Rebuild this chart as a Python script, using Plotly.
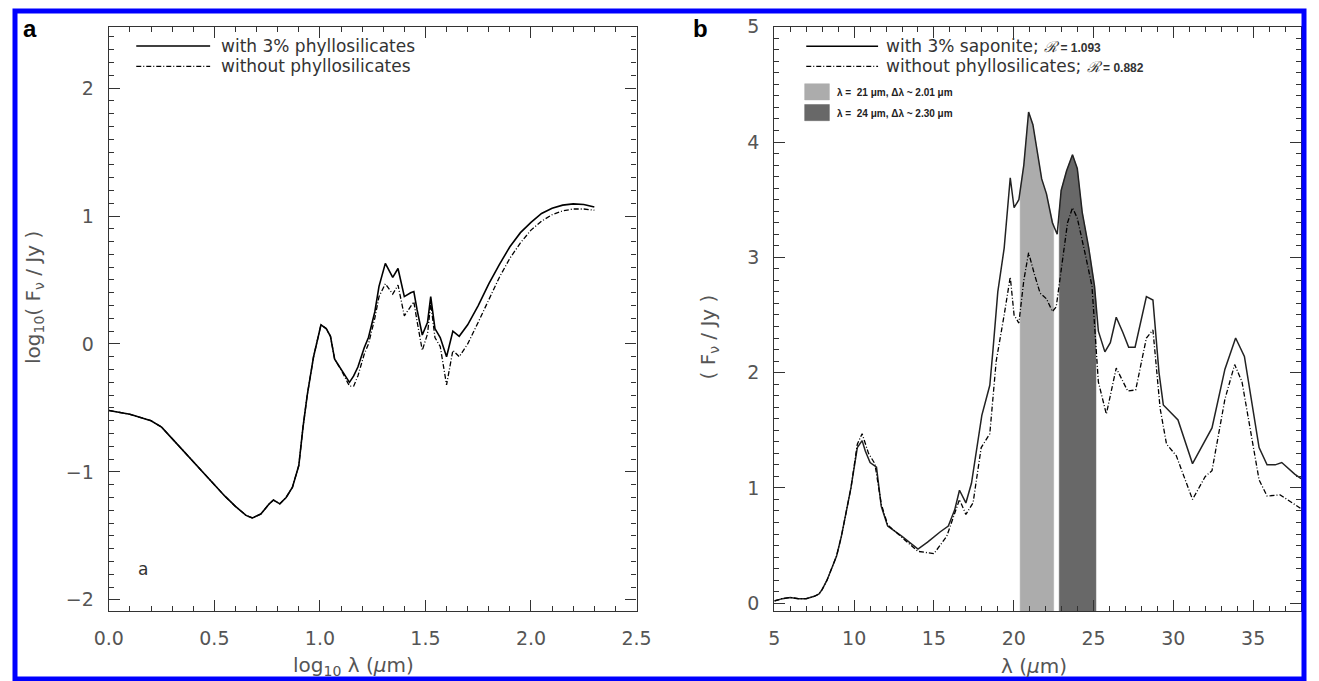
import numpy as np
import plotly.graph_objects as go

# ---------------- Panel a : log10 lambda vs log10 F ----------------
loglam_a = [0.00, 0.10, 0.20, 0.25, 0.30, 0.35, 0.40, 0.45, 0.50, 0.55, 0.60, 0.65, 0.68, 0.72,
            0.76, 0.78, 0.81, 0.84, 0.87, 0.90, 0.92, 0.94, 0.97, 1.005, 1.03, 1.05, 1.07, 1.10,
            1.14, 1.16, 1.18, 1.21, 1.23, 1.26, 1.28, 1.31, 1.345, 1.37, 1.40, 1.43, 1.445, 1.46,
            1.485, 1.51, 1.525, 1.545, 1.57, 1.60, 1.63, 1.66, 1.70, 1.75, 1.80, 1.85, 1.90, 1.95,
            2.00, 2.05, 2.10, 2.15, 2.20, 2.25, 2.30]
with_a = [-0.52, -0.55, -0.60, -0.65, -0.74, -0.83, -0.92, -1.01, -1.10, -1.19, -1.27, -1.34, -1.36, -1.33,
          -1.25, -1.22, -1.25, -1.20, -1.12, -0.95, -0.65, -0.40, -0.10, 0.15, 0.12, 0.06, -0.12, -0.20,
          -0.30, -0.25, -0.18, -0.03, 0.05, 0.25, 0.45, 0.63, 0.52, 0.59, 0.37, 0.40, 0.41, 0.27,
          0.07, 0.17, 0.37, 0.12, 0.05, -0.10, 0.10, 0.06, 0.15, 0.30, 0.47, 0.62, 0.76, 0.87,
          0.95, 1.02, 1.06, 1.085, 1.095, 1.09, 1.07]
without_a = [-0.52, -0.55, -0.60, -0.65, -0.74, -0.83, -0.92, -1.01, -1.10, -1.19, -1.27, -1.34, -1.36, -1.33,
             -1.25, -1.22, -1.25, -1.20, -1.12, -0.95, -0.65, -0.40, -0.10, 0.15, 0.12, 0.06, -0.12, -0.20,
             -0.33, -0.33, -0.25, -0.08, 0.00, 0.20, 0.37, 0.47, 0.39, 0.46, 0.22, 0.30, 0.33, 0.18,
             -0.05, 0.08, 0.32, 0.05, -0.02, -0.32, -0.05, -0.10, 0.00, 0.17, 0.35, 0.52, 0.67, 0.79,
             0.89, 0.96, 1.01, 1.04, 1.055, 1.055, 1.045]

# ---------------- Panel b : lambda vs F ----------------
lam_with = [5.0, 5.5, 6.0, 6.5, 7.0, 7.5, 7.8, 8.0, 8.3, 8.6, 8.9, 9.2, 9.5, 9.8, 10.2, 10.5, 10.7, 11.0,
            11.4, 11.7, 12.1, 13.0, 14.0, 14.6, 15.4, 15.9, 16.3, 16.6, 17.0, 17.35, 18.0, 18.5, 18.7,
            19.0, 19.4, 19.78, 20.02, 20.32, 20.63, 20.93, 21.2, 21.44, 21.75, 22.05, 22.42, 22.72,
            22.97, 23.31, 23.68, 23.98, 24.29, 24.7, 25.06, 25.3, 25.71, 26.05, 26.42, 26.83, 27.2,
            27.6, 28.31, 28.72, 29.1, 29.37, 30.29, 31.2, 31.81, 32.42, 33.23, 33.9, 34.45, 35.37,
            35.87, 36.38, 36.79, 37.6, 38.0]
f_with = [0.02, 0.04, 0.05, 0.04, 0.04, 0.06, 0.08, 0.12, 0.20, 0.30, 0.41, 0.58, 0.79, 1.00, 1.35, 1.41, 1.32, 1.22,
          1.18, 0.84, 0.67, 0.58, 0.47, 0.53, 0.62, 0.67, 0.81, 0.98, 0.87, 1.04, 1.63, 1.89, 2.20,
          2.70, 3.08, 3.69, 3.43, 3.50, 3.80, 4.26, 4.15, 3.94, 3.68, 3.55, 3.30, 3.20,
          3.58, 3.75, 3.89, 3.77, 3.39, 3.08, 2.75, 2.36, 2.18, 2.26, 2.48, 2.35, 2.22,
          2.22, 2.66, 2.63, 2.00, 1.72, 1.59, 1.21, 1.36, 1.52, 2.03, 2.30, 2.14, 1.35,
          1.20, 1.20, 1.22, 1.12, 1.08]
lam_without = [5.0, 5.5, 6.0, 6.5, 7.0, 7.5, 7.8, 8.0, 8.3, 8.6, 8.9, 9.2, 9.5, 9.8, 10.2, 10.5, 10.9, 11.3,
               11.7, 12.1, 13.0, 14.0, 15.0, 15.8, 16.6, 17.0, 17.45, 17.96, 18.5, 18.9, 19.4, 19.78,
               20.02, 20.32, 20.63, 20.93, 21.3, 21.65, 22.05, 22.42, 22.66, 23.07, 23.37, 23.68, 23.98,
               24.49, 24.9, 25.3, 25.8, 26.42, 27.14, 27.64, 28.31, 28.72, 29.17, 29.57, 30.18, 31.2,
               32.0, 32.42, 33.23, 33.84, 34.3, 35.37, 35.87, 36.69, 37.6, 38.0]
f_without = [0.02, 0.04, 0.05, 0.04, 0.04, 0.06, 0.08, 0.12, 0.20, 0.30, 0.41, 0.58, 0.79, 1.00, 1.38, 1.47, 1.30, 1.21,
             0.86, 0.68, 0.57, 0.45, 0.43, 0.58, 0.90, 0.77, 0.87, 1.35, 1.47, 2.10, 2.50, 2.83,
             2.50, 2.43, 2.80, 3.04, 2.85, 2.69, 2.64, 2.53, 2.57, 3.02, 3.30, 3.43, 3.34,
             3.02, 2.75, 1.92, 1.64, 2.04, 1.84, 1.85, 2.30, 2.37, 1.69, 1.38, 1.28, 0.90,
             1.10, 1.15, 1.77, 2.07, 1.92, 1.07, 0.93, 0.94, 0.86, 0.82]

band_21 = [20.4, 22.5]     # lambda = 21 um band
band_24 = [22.85, 25.15]   # lambda = 24 um band

legend_a = ["with 3% phyllosilicates", "without phyllosilicates"]
legend_b = ["with 3% saponite; ", "without phyllosilicates; "]
ratio_b = ["1.093", "0.882"]
band_labels = ["λ = &nbsp;21 μm, Δλ ~ 2.01 μm", "λ = &nbsp;24 μm, Δλ ~ 2.30 μm"]

# ---------------- layout constants ----------------
W, H = 1319, 681
XR_A = [0.0, 2.5]
YR_A = [-2.09, 2.48]
XR_B = [5.0, 38.0]
YR_B = [-0.07, 5.0]

def px(x):
    return x / W

def py(y):
    return 1 - y / H

dom_y = [py(612), py(16)]
dom_xa = [px(96), px(636)]
dom_xb = [px(777), px(1316)]

DASH = "5px,2px,1px,2px"
LIGHT = "#acacac"
DARK = "#686868"
AXC = "#333333"
FAM = "DejaVu Sans, Liberation Sans, Arial, sans-serif"
TICKFONT = dict(family=FAM, size=19, color="#555555")
TXTFONT = dict(family=FAM, size=17, color="#333333")

fig = go.Figure()

# band fills under the saponite curve
for band, col in [(band_21, LIGHT), (band_24, DARK)]:
    a, b = band
    inner = [l for l in lam_with if a < l < b]
    xs = [a] + inner + [b]
    ys = list(np.interp(xs, lam_with, f_with))
    fig.add_trace(go.Scatter(
        x=[a] + xs + [b], y=[YR_B[0]] + ys + [YR_B[0]],
        fill="toself", fillcolor=col, mode="lines",
        line=dict(color=col, width=0.5), xaxis="x2", yaxis="y2",
        hoverinfo="skip", showlegend=False))

# curves
fig.add_trace(go.Scatter(x=loglam_a, y=with_a, mode="lines",
                         line=dict(color="black", width=1.6), xaxis="x", yaxis="y", showlegend=False))
fig.add_trace(go.Scatter(x=loglam_a, y=without_a, mode="lines",
                         line=dict(color="black", width=1.3, dash=DASH), xaxis="x", yaxis="y", showlegend=False))
fig.add_trace(go.Scatter(x=lam_with, y=f_with, mode="lines",
                         line=dict(color="#222222", width=1.5), xaxis="x2", yaxis="y2", showlegend=False))
fig.add_trace(go.Scatter(x=lam_without, y=f_without, mode="lines",
                         line=dict(color="black", width=1.3, dash=DASH), xaxis="x2", yaxis="y2", showlegend=False))


def axis(rng, dom, dtick, mdtick, anchor, fmt=None):
    d = dict(range=rng, domain=dom, anchor=anchor, dtick=dtick, tick0=0,
             showline=True, linecolor=AXC, linewidth=1.3, mirror="allticks",
             ticks="inside", ticklen=11, tickwidth=1.3, tickcolor=AXC,
             minor=dict(ticks="inside", ticklen=5, tickwidth=1.1, tickcolor=AXC, dtick=mdtick),
             showgrid=False, zeroline=False, tickfont=TICKFONT, ticklabelstandoff=10)
    if fmt:
        d["tickformat"] = fmt
    return d

shapes = []
annotations = []

# legend of panel a
ya_rows = [2.33, 2.17]
for i, (txt, dsh) in enumerate(zip(legend_a, ["solid", DASH])):
    shapes.append(dict(type="line", xref="x", yref="y", x0=0.13, x1=0.48, y0=ya_rows[i], y1=ya_rows[i],
                       line=dict(color="black", width=1.5 if i == 0 else 1.2, dash=dsh)))
    annotations.append(dict(xref="x", yref="y", x=0.52, y=ya_rows[i], text=txt, showarrow=False,
                            xanchor="left", yanchor="middle", font=TXTFONT))

# legend of panel b
yb_rows = [4.83, 4.655]
for i, (txt, r, dsh) in enumerate(zip(legend_b, ratio_b, ["solid", DASH])):
    shapes.append(dict(type="line", xref="x2", yref="y2", x0=7.0, x1=11.5, y0=yb_rows[i], y1=yb_rows[i],
                       line=dict(color="black", width=1.5 if i == 0 else 1.2, dash=dsh)))
    annotations.append(dict(xref="x2", yref="y2", x=11.9, y=yb_rows[i],
                            text=txt + "<span style='font-size:15px;font-family:DejaVu Serif'><i>ℛ</i></span>"
                                 + "<b><span style='font-size:12px;font-family:Liberation Sans'> = " + r + "</span></b>",
                            showarrow=False, xanchor="left", yanchor="middle", font=TXTFONT))

yb_boxes = [4.43, 4.25]
for i, (txt, col) in enumerate(zip(band_labels, [LIGHT, DARK])):
    shapes.append(dict(type="rect", xref="x2", yref="y2", x0=6.9, x1=8.45,
                       y0=yb_boxes[i] - 0.065, y1=yb_boxes[i] + 0.075,
                       fillcolor=col, line=dict(color=col, width=0.5)))
    annotations.append(dict(xref="x2", yref="y2", x=8.8, y=yb_boxes[i], text="<b>" + txt + "</b>",
                            showarrow=False, xanchor="left", yanchor="middle",
                            font=dict(family="Liberation Sans, Arial, sans-serif", size=10, color="#222")))

# small "a" inside panel a
annotations.append(dict(xref="x", yref="y", x=0.16, y=-1.76, text="a", showarrow=False,
                        font=dict(family=FAM, size=17, color="#333")))

# panel letters
annotations.append(dict(xref="paper", yref="paper", x=px(6), y=py(2), text="<b>a</b>", showarrow=False,
                        xanchor="left", yanchor="top",
                        font=dict(family="Liberation Sans, Arial, sans-serif", size=24, color="black")))
annotations.append(dict(xref="paper", yref="paper", x=px(692), y=py(2), text="<b>b</b>", showarrow=False,
                        xanchor="left", yanchor="top",
                        font=dict(family="Liberation Sans, Arial, sans-serif", size=24, color="black")))

# axis titles
annotations.append(dict(xref="paper", yref="paper", x=px(346), y=py(668),
                        text="log<sub>10</sub> λ (<i>μ</i>m)", showarrow=False,
                        xanchor="center", yanchor="middle", font=dict(TICKFONT, size=20)))
annotations.append(dict(xref="paper", yref="paper", x=px(1043), y=py(668),
                        text="λ (<i>μ</i>m)", showarrow=False,
                        xanchor="center", yanchor="middle", font=dict(TICKFONT, size=20)))
annotations.append(dict(xref="paper", yref="paper", x=px(20), y=py(292),
                        text="log<sub>10</sub>( F<sub>ν</sub> / Jy )", showarrow=False, textangle=-90,
                        xanchor="center", yanchor="middle", font=dict(TICKFONT, size=20)))
annotations.append(dict(xref="paper", yref="paper", x=px(710), y=py(332),
                        text="( F<sub>ν</sub> / Jy )", showarrow=False, textangle=-90,
                        xanchor="center", yanchor="middle", font=dict(TICKFONT, size=20)))

# blue frame around the whole figure
shapes.append(dict(type="rect", xref="paper", yref="paper", x0=0, x1=1, y0=0, y1=1,
                   line=dict(color="#0000ff", width=5), layer="above"))

fig.update_layout(
    width=W, height=H, margin=dict(l=0, r=0, t=0, b=0),
    paper_bgcolor="white", plot_bgcolor="white", showlegend=False,
    xaxis=axis(XR_A, dom_xa, 0.5, 0.1, "y", ".1f"),
    yaxis=axis(YR_A, dom_y, 1, 0.1, "x"),
    xaxis2=axis(XR_B, dom_xb, 5, 1, "y2"),
    yaxis2=axis(YR_B, dom_y, 1, 0.1, "x2"),
    shapes=shapes, annotations=annotations,
)

fig.write_html("out.html")
